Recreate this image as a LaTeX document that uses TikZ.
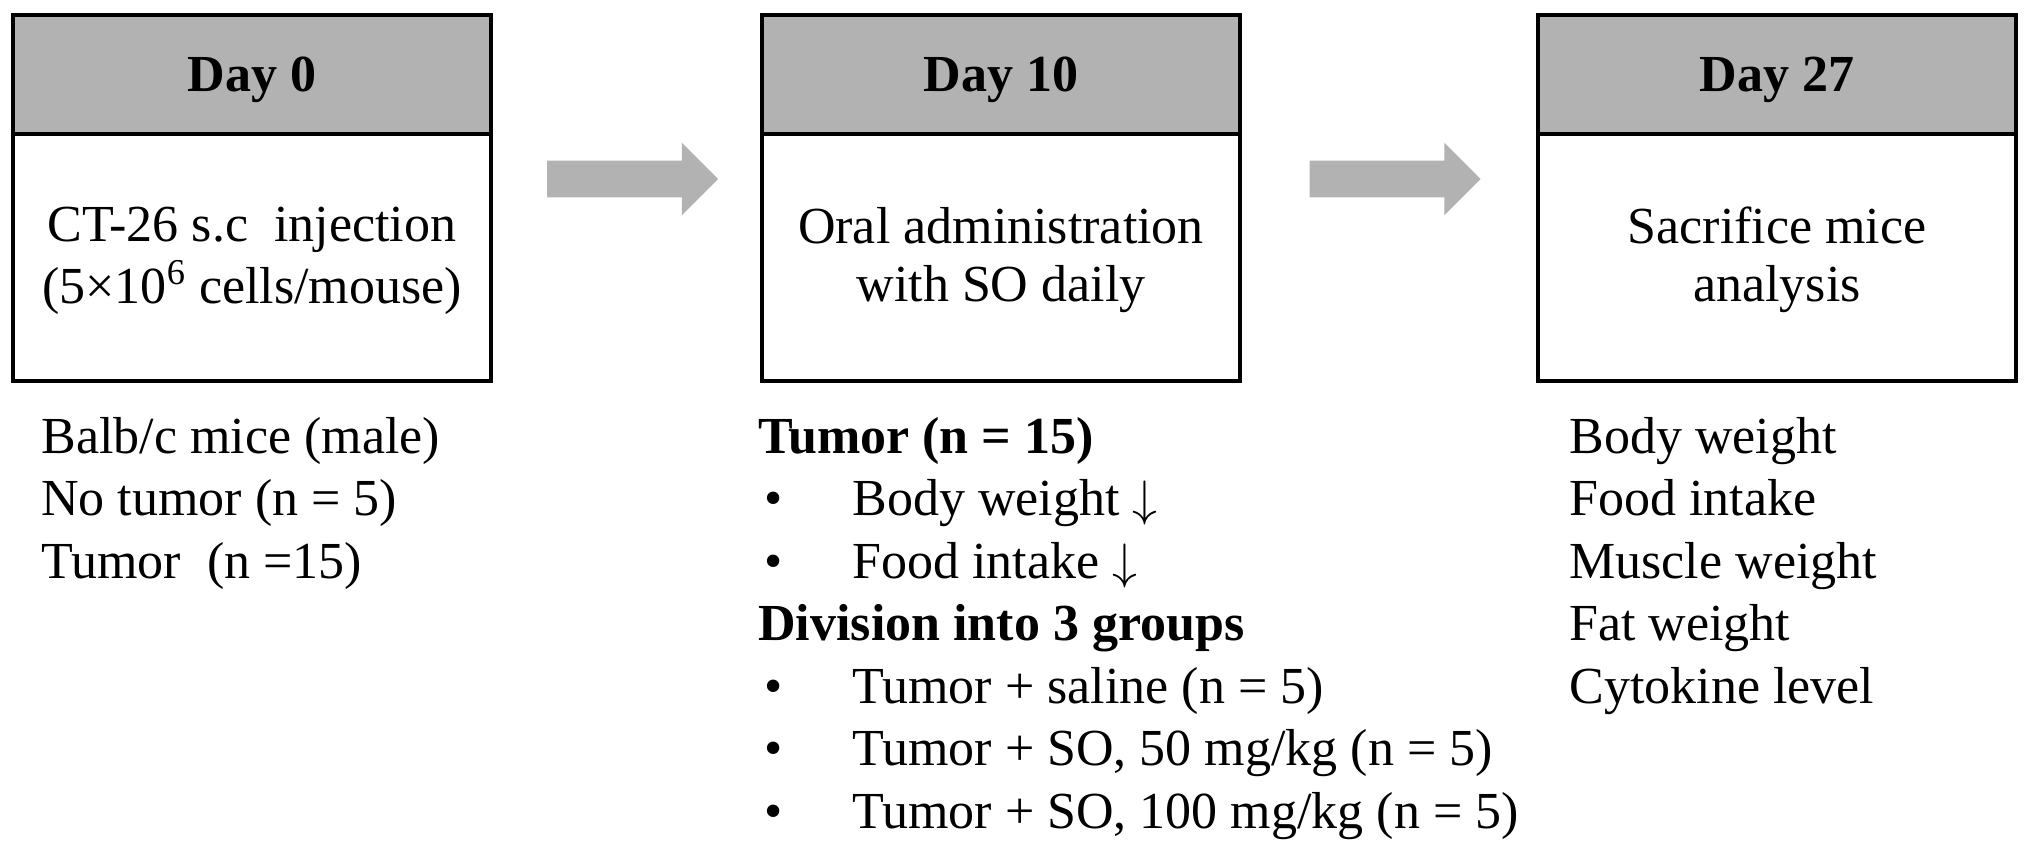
\documentclass[tikz,border=0pt]{standalone}
\usepackage{fontspec}
\setmainfont{Liberation Serif}
\usepackage{tikz}
\usetikzlibrary{calc,shapes.arrows,positioning}
\tikzset{
	fatarrow/.style={
		single arrow, draw=none, fill=gray!60,
		minimum height=85.5pt, minimum width=36pt,
		single arrow head extend=9pt, inner xsep=0pt, inner ysep=9pt
	},
}

\begin{document}
\begin{tikzpicture}[x=0.5pt,y=-0.5pt,
			dayhead/.style={
				draw, line width=2pt, rectangle, fill=gray!60,
				minimum width=239pt, minimum height=59.5pt,
				inner sep=0pt, outer sep=0pt, text=black, text depth=0pt,
				font=\fontsize{26pt}{29pt}\selectfont\bfseries
			},
			daybody/.style={
				draw, line width=2pt, rectangle, fill=white,
				minimum width=239pt, minimum height=123.5pt,
				inner sep=0pt, outer sep=0pt, align=center,
				font=\fontsize{26pt}{29pt}\selectfont
			},
			notes/.style={
				anchor=base west, align=left, inner sep=0pt,
				font=\fontsize{26pt}{31.25pt}\selectfont
			}]
		\useasboundingbox (0,0) rectangle (2031,852);
		\node[dayhead] (d0) at (252,74.5) {Day 0};
		\node[dayhead,right=135.5pt of d0] (d10) {Day 10};
		\node[dayhead,right=149pt of d10] (d27) {Day 27};
		\node[daybody,below=0pt of d0] (b0) {\strut CT-26 s.c~ injection\\(5×10\textsuperscript{6} cells/mouse)};
		\node[daybody,below=0pt of d10] (b10) {\strut Oral administration\\with SO daily};
		\node[daybody,below=0pt of d27] (b27) {\strut Sacrifice mice\\analysis};
		\node[fatarrow] (a1) at ($(d0.south east)!0.5!(d10.south west)+(-3,45)$) {};
		\node[fatarrow] (a2) at ($(d10.south east)!0.5!(d27.south west)+(-3,45)$) {};
		\node[notes] (n0) at ($(b0.south west)+(28,197)$) {Balb/c mice (male)\\No tumor (n = 5)\\Tumor~ (n =15)};
		\node[notes] (n10) at ($(b10.south west)+(-4,447)$) {\textbf{Tumor (n = 15)}\\
			\makebox[47pt][l]{\hspace{3pt}\textbullet}Body weight $\downarrow$\\
			\makebox[47pt][l]{\hspace{3pt}\textbullet}Food intake $\downarrow$\\
			\textbf{Division into 3 groups}\\
			\makebox[47pt][l]{\hspace{3pt}\textbullet}Tumor + saline (n = 5)\\
			\makebox[47pt][l]{\hspace{3pt}\textbullet}Tumor + SO, 50 mg/kg (n = 5)\\
			\makebox[47pt][l]{\hspace{3pt}\textbullet}Tumor + SO, 100 mg/kg (n = 5)};
		\node[notes] (n27) at ($(b27.south west)+(31,322)$) {Body weight\\Food intake\\Muscle weight\\Fat weight\\Cytokine level};
	\end{tikzpicture}
\end{document}
